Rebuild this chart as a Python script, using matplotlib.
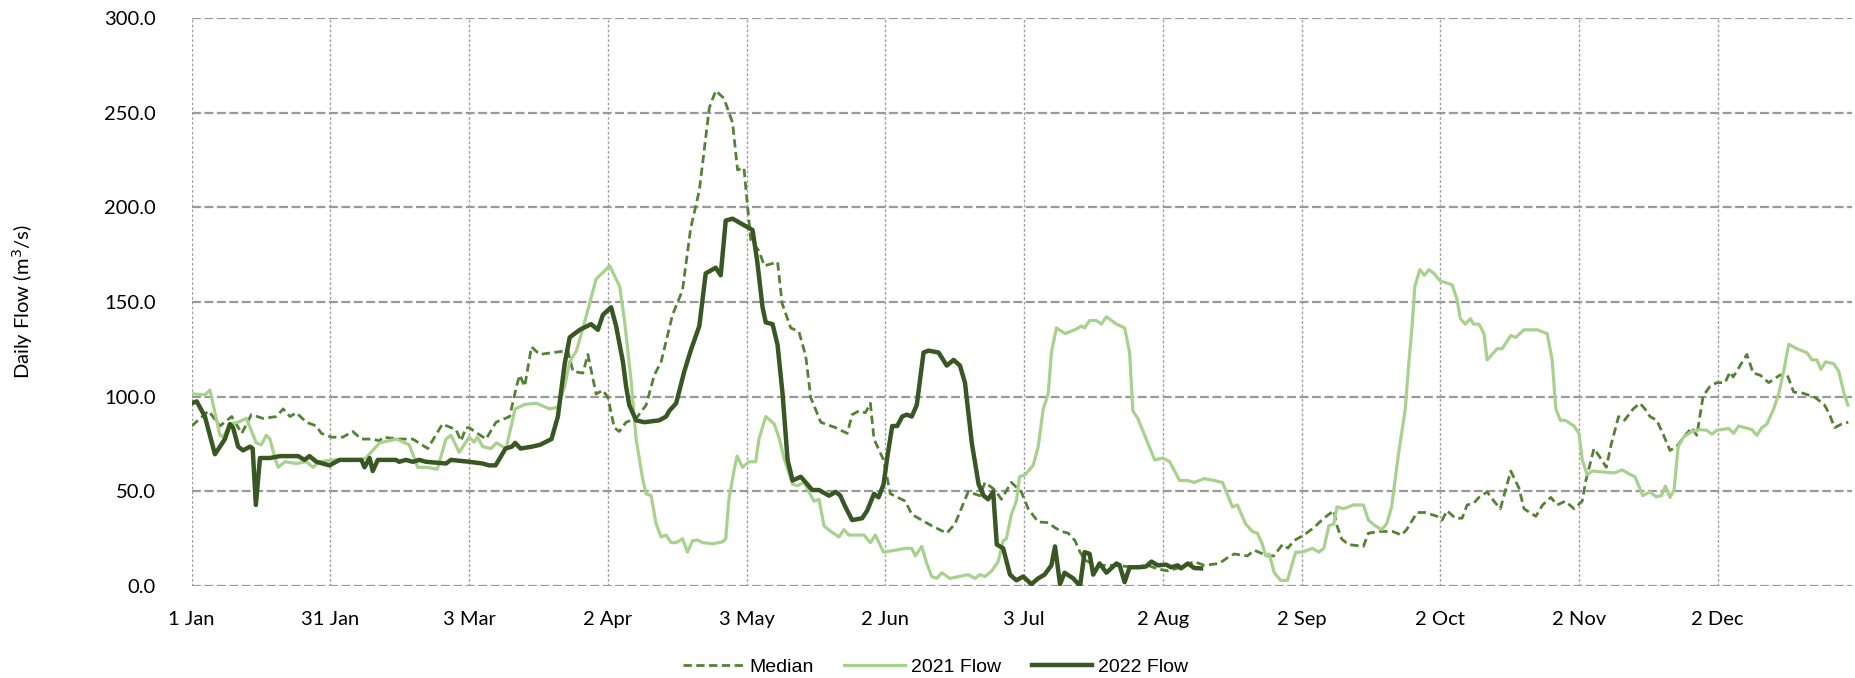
import matplotlib
matplotlib.use("Agg")
import matplotlib.pyplot as plt

# day of year (0 = 1 Jan) and flow
median_day = [0, 3.7, 6.2, 8.8, 11, 13.1, 15.7, 18.6, 20.1, 21.6, 23, 25.2, 27.4, 28.5, 30.7, 33.2,
              35.4, 37.3, 39.8, 41.3, 42, 45.7, 48.6, 51.9, 55.1, 58.1, 59.2, 60.3,
              61, 64.7, 66.9, 69.9, 71.4, 72.1, 73.2, 74.7, 76.5, 79.5, 82.7, 83.8, 86, 87.1,
              88.9, 90.4, 91.5, 92.9, 94, 95.5, 97.7, 99.9, 101.7, 103.2, 105.7, 107.9, 109.7,
              111.6, 113.8, 115.2, 117, 118.9, 120, 121.4, 122.9, 124.7,
              125.9, 128.8, 129.8, 131.7, 133.5, 135, 136.1, 138.3, 139.4, 141.6, 144.1, 145.2,
              146.7, 148.1, 149.2, 150, 152.1, 153.6, 156.9, 158.3, 160.5, 162.7, 166, 167.8,
              170.7, 173.3, 174.4, 176.6, 178, 180.2, 182.4, 183.9, 186.1, 188.3,
              189.8, 191.2, 192.7, 194.2, 195.3, 196.3, 197.8, 200, 202.9, 207, 210.2, 212.4,
              214.6, 217.5, 220.4, 222.6, 225.9, 227.7, 229.2, 232.1, 233.6, 236.5, 237.9,
              239.8, 241, 242.3, 244.5, 246.7, 248.9, 251.1, 251.8,
              252.8, 254.3, 257.6, 258.7, 261.3, 264, 266, 267.1, 269.4, 271.2, 273.8, 274.9,
              276, 277.8, 279.3, 280.4, 281.9, 283, 284.8, 286.3, 287.7, 290, 291.8, 292.9,
              295.5, 297, 298.8, 300.2, 302, 303.9, 305.7, 306.5, 308.3,
              309.6, 311, 312.1, 313.7, 315, 316.9, 318.4, 319.5, 320.6, 322.1, 323.6, 325,
              326.5, 328, 329.8, 330.9, 332.3, 333.8, 335.3, 337.1, 338.2, 338.9, 340.4, 341.9,
              343.3, 344.8, 346.7, 349.2, 350.8, 352.2, 354.1, 355.9, 357, 359, 360.1, 361.2,
              362.7, 364.2]
median_flow = [84.5, 92.5, 84.5, 89.5, 80.6, 90.5, 88.5, 89.5, 93.5, 89.5, 91.5, 86.5, 84.5, 80.6, 78.6, 78.6,
               81.6, 77.6, 77.6, 76.6, 78.6, 77.6, 77.6, 72.6, 85.5, 82.6, 76.6, 83.6,
               83.6, 77.6, 86.5, 89.5, 105.4, 111.4, 105.4, 126.3, 122.3, 123.3, 124.3, 113.4, 112.4, 122.3,
               101.4, 103.4, 99.5, 83.6, 81.6, 86.5, 88.5, 95.5, 111.4, 118.4, 143.2, 156.2, 189,
               208.9, 252.6, 261.6, 257.6, 244.7, 219.8, 220.8, 183, 177,
               169.1, 171.1, 149.2, 136.3, 134.3, 121.3, 99.5, 86.5, 85.5, 83.6, 80.6, 90.5,
               92.5, 91.5, 96.5, 77.6, 66.6, 48.7, 44.8, 37.8, 34.8, 31.8, 27.9, 32.8,
               49.7, 47.7, 54.7, 50.7, 45.8, 54.7, 49.7, 40.8, 33.8, 33.5,
               30.8, 28.8, 27.9, 23.9, 17.9, 13.9, 11.9, 10.9, 10.9, 10, 10.9, 9,
               8, 9.9, 12.9, 10.9, 11.9, 14.9, 16.9, 15.9, 18.9, 15.9, 15.9,
               21.9, 20, 23.9, 26.9, 30.8, 35.8, 39.8, 31.8,
               24.9, 21.9, 20.9, 27.9, 28.8, 28.8, 26.9, 29.8, 38.8, 38.8, 36.8, 34.8,
               39.8, 35.8, 35.8, 42.8, 43.8, 46.8, 49.7, 44.8, 40.8, 60.7, 51.7, 40.8,
               36.8, 42.8, 46.8, 42.8, 44.8, 40.8, 44.8, 55.7, 72.6,
               68, 62.7, 75, 89.5, 87.5, 93.5, 96.5, 93.5, 89.5, 87.5, 79.6, 71.6,
               73.6, 78.6, 83.6, 79.6, 100.5, 105.4, 107.4, 107.4, 113, 110.4, 116.4, 122.3,
               112.4, 111.4, 107.4, 111.4, 111.4, 102.4, 101.9, 100.5, 99.5, 95.5, 90.5, 83.6,
               85.5, 86.5]

flow2021_day = [0, 2.9, 4, 6.2, 6.9, 8.4, 10.2, 12, 14.2, 15.3, 16.4, 17.2, 18.3, 19, 20.5, 23, 25.2,
                26.7, 28.1, 31, 36.9, 38.3, 41.3, 45, 47.8, 49.7, 51.5, 54, 55.9, 57, 58.8, 61,
                62.1, 62.8, 64, 65.8, 67, 69.1, 71.1, 73.2, 75.8, 78.7, 80.5, 82, 83.1, 84.6, 86.8,
                88.9, 91.9, 94.1, 95.2, 96.6, 97.7, 99.2, 99.9, 101, 102.1, 103.2, 104.3, 105.4,
                106.5, 107.9, 109, 110.1, 111.2, 112.3, 114.5, 116.7, 117.4, 118.1, 119.2, 119.9,
                121.1, 122.5, 124, 124.7,
                126.2, 128.1, 129.2, 130.2, 132.1, 133.2, 134.6, 136.8, 137.9, 139, 140.5, 142.3,
                143.4, 144.5, 146.7, 147.8, 149.2, 150.3, 152.1, 154.7, 156.9, 158.3, 159.1, 160.5,
                161.6, 162.7, 163.8, 164.9, 166.7, 170.7, 172.2, 173.3, 174.4, 175.9, 177.3, 178.4,
                179.1, 180.2, 181.3, 182, 183.2, 185, 186.1, 187.2, 188.3,
                189, 190.1, 192, 194.1, 195.6, 196.3, 197.4, 198.9, 200, 201.1, 203.3, 205.1, 206.2,
                206.9, 208, 209.5, 211.7, 213.5, 215, 217.2, 219, 220.4, 221.5, 222.6, 224.8, 226.6,
                228.8, 229.9, 231.7, 233.2, 234.3, 235.4, 236.1, 236.9, 238, 239.4, 240.9, 242.7,
                244.2, 246.4, 247.8, 248.9, 250, 251.1, 251.8,
                253.2, 255.4, 257.6, 258.7, 260.2, 261.6, 262.7, 263.8, 265.3, 266.8, 267.5, 268.3,
                268.9, 270, 271, 272, 273.1, 274.5, 277.1, 278.2, 278.9, 280, 281.1, 281.8, 283,
                284.1, 284.8, 287, 288.1, 290, 291.1, 292.9, 295.8, 298, 299.1, 299.9, 300.9, 302,
                303.9, 305, 305.7, 306.8, 307.9, 312.7, 314.5, 316.4, 317.3,
                318, 319, 320.6, 322, 323.1, 324, 325, 325.9, 326.8, 328, 329.8, 331.6, 333.1,
                334.2, 335.3, 337.9, 339, 340.1, 343, 344.1, 345.2, 346.3, 347.8, 348.9, 350,
                351.1, 352.9, 355.1, 356.2, 357.3, 358.2, 359.2, 361, 362.1, 363.2, 364.1]
flow2021 = [101.5, 101, 103.4, 79.6, 78.6, 85.5, 86.5, 88.5, 75.6, 74.6, 79.6, 77.6, 67.6, 62.7, 65.6, 64.7, 65.6,
            62.7, 65.6, 66.6, 66.6, 67.6, 75.6, 77.6, 74.6, 62.7, 62.7, 61.7, 77.6, 79.6, 70.6, 78.6,
            76, 78.6, 73.6, 72.6, 75.6, 72.6, 93.5, 95.9, 96.5, 93.5, 94.5, 105.4, 118.4, 124.3, 143.2,
            162.1, 169.1, 158.1, 139.2, 108.4, 77.6, 55.7, 48.7, 47.7, 32.8, 25.9, 26.9, 22.9,
            22.9, 24.9, 17.9, 23.9, 24.3, 22.9, 22.3, 23.3, 24.9, 45.8, 60.7, 68.6,
            62.7, 65.6, 65.6, 77.6,
            89.5, 85.5, 77.6, 67.6, 53.7, 53, 54.7, 44.8, 45.8, 31.8, 28.8, 25.9,
            29.8, 26.9, 26.9, 26.9, 22.9, 26.9, 17.9, 18.9, 19.9, 19.9, 15.9, 20.9,
            11.9, 5, 4, 7, 4, 6, 4, 6, 5, 8, 12.9, 23.9,
            24.9, 37.8, 44.8, 57.7, 58.7, 63.7, 73.6, 93.5, 101.5,
            123.3, 136.3, 133.3, 135.3, 137.3, 136.3, 140.2, 140.2, 138.3, 142.2, 138.3, 136.3, 123.3,
            92.5, 88.5, 79.6, 66.6, 67.6, 65.6, 55.7, 55.7, 54.7, 55.7, 56.7, 55.7, 54.7,
            41.8, 42.8, 32.8, 28.8, 27.9, 21.9, 15.9, 16.9, 7, 3, 3, 17.9,
            17.9, 19.9, 17.9, 19.9, 31.8, 32.8, 41.8,
            40.8, 42.8, 42.8, 34.8, 31.8, 29.8, 32.8, 41.8, 69.6, 93.5, 115.4, 137.3,
            158.1, 167.1, 164.1, 167.1, 165.1, 161.1, 159.1, 151.2, 141.2, 138.3, 141.2, 138.3, 138.3,
            133.3, 119.4, 125.3, 125.3, 132.3, 131.3, 135.3, 135.3, 133.3, 119.4, 93.5, 87.5, 87.5,
            84.5, 80.6, 66.6, 58.7, 60.7, 59.7, 61.3, 58.7, 57.7,
            53.7, 47.7, 49.7, 47.1, 47.7, 52.7, 46.8, 50.7, 73.6, 78.6, 81.6, 82.6, 82.2,
            80.2, 82.2, 83.2, 80.6, 84.5, 82.6, 79.6, 83.6, 85.5, 93.5, 101.5, 113.4,
            127.7, 125.3, 123.3, 119.4, 119.4, 114.4, 118.4, 117.4, 113.4, 102.4, 95.5]

flow2022_day = [0, 1.1, 2.9, 5.1, 7.3, 8.4, 9.1, 10.2, 11.3, 12.8, 13.4, 14.1, 15, 17.2, 19.4, 23.4,
                24.8, 25.9, 27.4, 30.3, 32.5, 37.3, 38, 39.1, 39.8, 40.9, 44.9, 45.6, 47.1, 48.6,
                50, 51.5, 55.9, 57, 61,
                63.9, 65.4, 66.8, 69, 70.4, 71.1, 72.3, 74.8, 76.6, 79.1, 80.5, 82, 83.1, 85.3,
                87.8, 89.3, 90.4, 92.2, 93.3, 94.8, 95.5, 96.2, 97.7, 99.5, 102.8, 104.3, 105,
                106.5, 108.3, 109.7, 111.6, 113, 115.2, 116.3, 117.4, 118.9, 123.3, 124.3,
                125.5, 126.2, 127.7, 128.8, 129.9, 131, 132.1, 133.9, 135, 136.4, 137.9, 140.1,
                141.6, 142.6, 143.7, 145.2, 147.4, 148.5, 150, 151, 152.1, 152.9, 154, 155.1,
                156.2, 157.2, 158.3, 159.4, 160.9, 162, 164.2, 166, 167.5, 168.9, 170, 171.5,
                173, 174.1, 175.1, 176.2, 177, 178.4, 179.9, 181.3, 182.8, 184.6, 186.1, 187.5,
                189, 189.8, 190.9, 191.9, 193.8, 195.3, 196.3, 197.4, 198.2, 199.6, 201.1, 203.3,
                204, 205.1, 206.2, 208.4, 209.8, 211, 212.4, 214.2, 215.3, 216.8, 217.5, 219,
                220.4, 221.9]
flow2022 = [96.5, 97.5, 89.5, 69.6, 77.6, 85.5, 83.6, 73.6, 71.6, 73.6, 72.6, 42.8, 67.6, 67.6, 68.6, 68.6,
            66.6, 68.6, 65.6, 63.7, 66.6, 66.6, 62.7, 67.6, 60.7, 66.6, 66.6, 65.6, 66.6, 65.6,
            66.6, 65.6, 64.7, 66.6, 65.6,
            64.7, 63.7, 63.7, 72.6, 73.6, 75.6, 72.6, 73.6, 74.6, 77.6, 89.5, 117.4, 131.3, 135.3,
            138.3, 135.3, 143.2, 147.2, 137.3, 118.4, 105.4, 95.5, 87.5, 86.5, 87.5, 89.5, 92.5,
            96.5, 113.4, 124.3, 137.3, 165.1, 168.1, 164.1, 193, 194, 188, 172,
            147.2, 139.2, 138.3, 127.3, 101.5, 66.6, 55.7, 57.7, 54.7, 50.7, 50.7, 47.7,
            49.7, 47.7, 41.8, 34.8, 35.8, 39.8, 48.7, 46.8, 53.7, 67.6, 84.5, 84.5,
            89.5, 90.5, 89.5, 95.5, 123.3, 124.3, 123.3, 116.4, 119.4, 116.4, 107.4, 75.6,
            53.7, 47.7, 45.8, 49.7, 21.9, 19.9, 6, 3, 5, 1, 4, 6,
            10.9, 20.9, 1, 7, 4, 0, 17.9, 17, 6, 11.9, 7, 11.9,
            11, 2, 9.9, 9.9, 10.3, 12.9, 10.9, 11.3, 9.9, 10.9, 9.3, 11.9,
            9.5, 9.3]

tick_days = [0, 30.5, 61, 91.5, 122, 152.5, 183, 213.5, 244, 274.5, 305, 335.5]
tick_labels = ["1 Jan", "31 Jan", "3 Mar", "2 Apr", "3 May", "2 Jun", "3 Jul",
               "2 Aug", "2 Sep", "2 Oct", "2 Nov", "2 Dec"]
y_ticks = [0, 50, 100, 150, 200, 250, 300]

fig = plt.figure(figsize=(18.56, 6.78), dpi=100)
ax = fig.add_axes([0.1033, 0.1357, 0.8945, 0.8378])

ax.plot(median_day, median_flow, color="#548235", lw=2.0, linestyle=(0, (3, 1.6)), label="Median")
ax.plot(flow2021_day, flow2021, color="#a9d18e", lw=2.3, label="2021 Flow")
ax.plot(flow2022_day, flow2022, color="#385723", lw=3.2, label="2022 Flow")

ax.set_xlim(0, 365)
ax.set_ylim(0, 300)
ax.set_xticks(tick_days)
ax.set_xticklabels(tick_labels, fontfamily="Lato", fontsize=14.5)
ax.set_yticks(y_ticks)
ax.set_yticklabels([f"{v:.1f}" for v in y_ticks], fontfamily="Lato", fontsize=14.5)
ax.tick_params(axis="both", length=0)
ax.tick_params(axis="x", pad=18)
ax.tick_params(axis="y", pad=26)

ax.grid(axis="y", color="#999999", lw=1.6, linestyle=(0, (4, 1.6)))
ax.grid(axis="x", color="#a0a0a0", lw=1.0, linestyle=(0, (2, 1.5)))
ax.set_axisbelow(True)
for s in ax.spines.values():
    s.set_visible(False)

ax.set_ylabel("Daily Flow (m$^3$/s)", fontfamily="Lato", fontsize=14.5)
ax.yaxis.set_label_coords(-0.0943, 0.5)

leg = fig.legend(loc="center", bbox_to_anchor=(0.504, 0.016), ncol=3, frameon=False,
                 prop={"family": "Liberation Sans", "size": 14}, handlelength=3.1,
                 handletextpad=0.3, columnspacing=1.6)

fig.savefig("out.png", dpi=100)
